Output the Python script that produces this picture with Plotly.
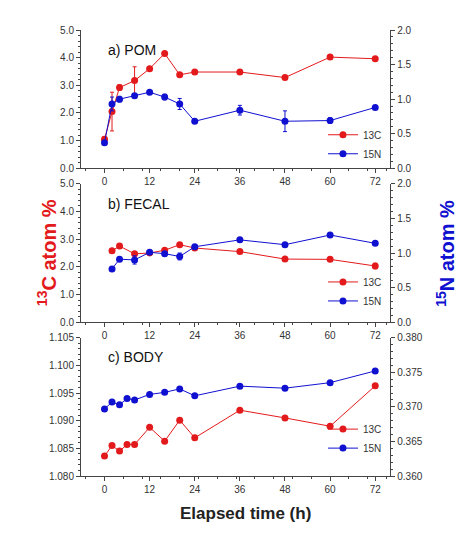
import plotly.graph_objects as go
from plotly.subplots import make_subplots

# POM
pom_t = [0, 2, 4, 8, 12, 16, 20, 24, 36, 48, 60, 72]
pom_c = [1.05, 2.05, 2.92, 3.17, 3.6, 4.15, 3.38, 3.48, 3.48, 3.28, 4.02, 3.96]
pom_c_err = [0.1, 0.7, 0.1, 0.5, 0.05, 0.05, 0.05, 0.05, 0.05, 0.05, 0.05, 0.05]
pom_n = [0.37, 0.93, 1.0, 1.05, 1.1, 1.03, 0.93, 0.68, 0.84, 0.68, 0.69, 0.88]
pom_n_err = [0.03, 0.1, 0.04, 0.03, 0.02, 0.04, 0.08, 0.02, 0.07, 0.15, 0.04, 0.02]

# FECAL
fec_t = [2, 4, 8, 12, 16, 20, 24, 36, 48, 60, 72]
fec_c = [2.58, 2.75, 2.47, 2.5, 2.6, 2.8, 2.68, 2.55, 2.28, 2.27, 2.03]
fec_c_err = [0.03, 0.05, 0.05, 0.03, 0.03, 0.03, 0.03, 0.03, 0.03, 0.03, 0.1]
fec_n = [0.77, 0.91, 0.9, 1.01, 0.99, 0.95, 1.09, 1.19, 1.12, 1.26, 1.14]
fec_n_err = [0.02, 0.03, 0.06, 0.03, 0.03, 0.05, 0.02, 0.02, 0.02, 0.02, 0.03]

# BODY
body_t = [0, 2, 4, 6, 8, 12, 16, 20, 24, 36, 48, 60, 72]
body_c = [1.0836, 1.0855, 1.0845, 1.0857, 1.0857, 1.0888, 1.0863, 1.0901, 1.0869, 1.0919, 1.0905, 1.0890, 1.0963]
body_n = [0.3697, 0.3707, 0.3703, 0.3712, 0.3710, 0.3718, 0.3721, 0.3726, 0.3716, 0.3730, 0.3727, 0.3735, 0.3752]

RED = "#e31a1c"
BLUE = "#1010d0"

fig = make_subplots(rows=3, cols=1, specs=[[{"secondary_y": True}]] * 3,
                    vertical_spacing=0.035)

panels = [
    (pom_t, pom_c, pom_c_err, pom_n, pom_n_err, "legend"),
    (fec_t, fec_c, fec_c_err, fec_n, fec_n_err, "legend2"),
    (body_t, body_c, None, body_n, None, "legend3"),
]
for i, (t, c, ce, n, ne, lg) in enumerate(panels, start=1):
    fig.add_trace(go.Scatter(
        x=t, y=c, name="13C", mode="lines+markers", legend=lg,
        line=dict(color=RED, width=1), marker=dict(color=RED, size=7),
        error_y=dict(array=ce, color=RED, thickness=1, width=2, visible=ce is not None)),
        row=i, col=1, secondary_y=False)
    fig.add_trace(go.Scatter(
        x=t, y=n, name="15N", mode="lines+markers", legend=lg,
        line=dict(color=BLUE, width=1), marker=dict(color=BLUE, size=7),
        error_y=dict(array=ne, color=BLUE, thickness=1, width=2, visible=ne is not None)),
        row=i, col=1, secondary_y=True)

axis_style = dict(showline=True, linecolor="#444", linewidth=1, mirror=False,
                  ticks="outside", ticklen=4, showgrid=False, zeroline=False,
                  tickfont=dict(size=10, color="#333"), minor=dict(ticks="outside", ticklen=2))
for i in range(1, 4):
    fig.update_xaxes(range=[-6.25, 76], tickvals=[0, 12, 24, 36, 48, 60, 72],
                     showticklabels=True, row=i, col=1, **axis_style)
fig.update_yaxes(range=[0, 5], dtick=1, tickformat=".1f", row=1, col=1, secondary_y=False, **axis_style)
fig.update_yaxes(range=[0, 2], dtick=0.5, tickformat=".1f", row=1, col=1, secondary_y=True, **axis_style)
fig.update_yaxes(range=[0, 5], dtick=1, tickformat=".1f", row=2, col=1, secondary_y=False, **axis_style)
fig.update_yaxes(range=[0, 2], dtick=0.5, tickformat=".1f", row=2, col=1, secondary_y=True, **axis_style)
fig.update_yaxes(range=[1.08, 1.105], dtick=0.005, tickformat=".3f", row=3, col=1, secondary_y=False, **axis_style)
fig.update_yaxes(range=[0.36, 0.38], dtick=0.005, tickformat=".3f", row=3, col=1, secondary_y=True, **axis_style)

labels = ["a) POM", "b) FECAL", "c) BODY"]
for i, lab in enumerate(labels, start=1):
    xa = "x" if i == 1 else f"x{i}"
    ya = "y" if i == 1 else f"y{2*i-1}"
    fig.add_annotation(text=lab, xref=f"{xa} domain", yref=f"{ya} domain",
                       x=0.08, y=0.93, showarrow=False, xanchor="left",
                       font=dict(size=14, color="#111"))

leg = dict(bgcolor="rgba(0,0,0,0)", font=dict(size=10, color="#333"),
           xanchor="right", yanchor="bottom", itemwidth=30, tracegroupgap=0)
fig.update_layout(
    legend=dict(x=0.93, y=0.69, **leg),
    legend2=dict(x=0.93, y=0.36, **leg),
    legend3=dict(x=0.93, y=0.03, **leg),
)

fig.add_annotation(text="<b><sup>13</sup>C atom %</b>", xref="paper", yref="paper",
                   x=-0.15, y=0.5, textangle=-90, showarrow=False,
                   font=dict(size=20, color=RED))
fig.add_annotation(text="<b><sup>15</sup>N atom %</b>", xref="paper", yref="paper",
                   x=1.15, y=0.5, textangle=-90, showarrow=False,
                   font=dict(size=20, color=BLUE))
fig.add_annotation(text="<b>Elapsed time (h)</b>", xref="paper", yref="paper",
                   x=0.5, y=-0.11, showarrow=False, font=dict(size=17, color="#222"))

fig.update_layout(
    width=474, height=534, template="plotly_white",
    paper_bgcolor="white", plot_bgcolor="white",
    margin=dict(l=73, r=72, t=22, b=66),
    font=dict(family="Arial, Liberation Sans, sans-serif"),
)

fig.write_html("out.html")
